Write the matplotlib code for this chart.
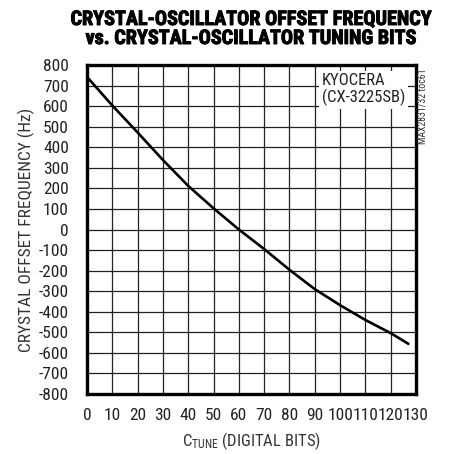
import matplotlib
matplotlib.use("Agg")
import matplotlib.pyplot as plt
import matplotlib.patheffects as pe

# Tuning curve: crystal offset frequency vs. CTUNE code
ctune_bits = [0, 10, 20, 30, 40, 50, 60, 70, 80, 90, 100, 110, 120, 127]
offset_hz = [742, 603, 472, 338, 212, 103, 0, -95, -196, -290, -368, -440, -504, -556]

x_ticks = list(range(0, 131, 10))
y_ticks = list(range(-800, 801, 100))

title_text = "CRYSTAL-OSCILLATOR OFFSET FREQUENCY\nvs. CRYSTAL-OSCILLATOR TUNING BITS"
ylabel_text = "CRYSTAL OFFSET FREQUENCY (Hz)"
xlabel_text = r"$\mathregular{C_{TUNE}}$ (DIGITAL BITS)"
legend_text = "KYOCERA\n(CX-3225SB)"
code_text = "MAX2831/32 toc61"

plt.rcParams["font.family"] = ["Roboto Condensed", "DejaVu Sans"]
plt.rcParams["mathtext.fontset"] = "custom"
plt.rcParams["mathtext.rm"] = "Roboto Condensed"

fig = plt.figure(figsize=(4.5, 4.54), dpi=100)
ax = fig.add_axes([87 / 450, 1 - 394 / 454, 329 / 450, 329 / 454])

ax.plot(ctune_bits, offset_hz, color="black", lw=1.9, solid_capstyle="round",
        solid_joinstyle="round", zorder=3)

ax.set_xlim(0, 130)
ax.set_ylim(-800, 800)
ax.set_xticks(x_ticks)
ax.set_yticks(y_ticks)
ax.set_xticklabels([str(v) for v in x_ticks])
ax.set_yticklabels([str(v) for v in y_ticks])
ax.tick_params(length=0, labelsize=12.5, colors="#222222")
ax.tick_params(axis="x", pad=10)
ax.tick_params(axis="y", pad=13)
ax.grid(True, color="#222222", lw=0.9)
ax.set_axisbelow(True)
for s in ax.spines.values():
    s.set_linewidth(2.4)
    s.set_color("black")

ax.set_ylabel(ylabel_text, fontsize=12.5, color="#333333", labelpad=3)
ax.set_xlabel(xlabel_text, fontsize=12, color="#333333", labelpad=5)

title = fig.text(0.556, 0.978, title_text, ha="center", va="top", fontsize=14.5,
                 fontweight="bold", color="black", linespacing=1.0)
title.set_path_effects([pe.withStroke(linewidth=0.7, foreground="black")])

ax.text(0.714, 0.976, legend_text, transform=ax.transAxes, fontsize=12,
        color="#222222", ha="left", va="top", linespacing=1.05,
        bbox=dict(facecolor="white", edgecolor="none", pad=2.0), zorder=4)

fig.text(423 / 450, 1 - 68 / 454, code_text, rotation=90, ha="center", va="top",
         fontsize=7, color="#333333")

fig.savefig("out.png", dpi=100)
